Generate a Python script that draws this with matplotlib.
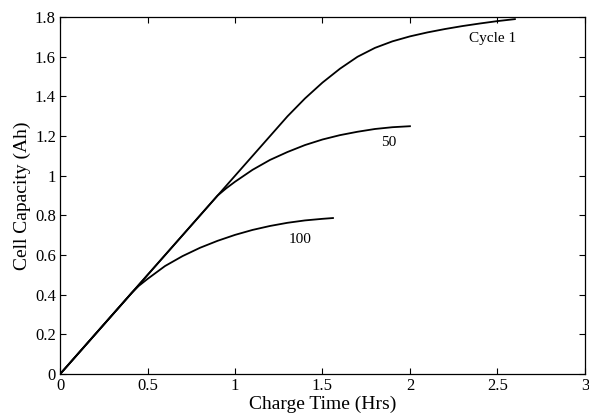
import numpy as np
import matplotlib
matplotlib.use("Agg")
import matplotlib.pyplot as plt
from matplotlib.ticker import FuncFormatter

# ─────────────────────────────────────────────
#  Data (hours, Ah)
# ─────────────────────────────────────────────
cycle1_t = [0, 0.5, 1.0, 1.3, 1.4, 1.5, 1.6, 1.7, 1.8, 1.9, 2.0,
            2.1, 2.2, 2.3, 2.4, 2.5, 2.6]
cycle1_c = [0, 0.5, 1.0, 1.3, 1.39, 1.47, 1.54, 1.60, 1.645, 1.678, 1.703,
            1.723, 1.74, 1.755, 1.768, 1.78, 1.79]

cycle50_t = [0, 0.5, 0.9, 0.95, 1.0, 1.1, 1.2, 1.3, 1.4, 1.5, 1.6,
             1.7, 1.8, 1.9, 2.0]
cycle50_c = [0, 0.5, 0.9, 0.937, 0.97, 1.03, 1.08, 1.12, 1.155, 1.183, 1.205,
             1.222, 1.236, 1.245, 1.25]

cycle100_t = [0, 0.2, 0.41, 0.45, 0.5, 0.6, 0.7, 0.8, 0.9, 1.0, 1.1,
              1.2, 1.3, 1.4, 1.5, 1.56]
cycle100_c = [0, 0.2, 0.41, 0.445, 0.48, 0.545, 0.595, 0.637, 0.672, 0.702, 0.727,
              0.747, 0.763, 0.775, 0.783, 0.787]

curve_labels = ["Cycle 1", "50", "100"]
label_pos = [(2.47, 1.69), (1.88, 1.17), (1.37, 0.68)]

x_ticks = [0, 0.5, 1, 1.5, 2, 2.5, 3]
y_ticks = [0, 0.2, 0.4, 0.6, 0.8, 1, 1.2, 1.4, 1.6, 1.8]

# ─────────────────────────────────────────────
#  Figure
# ─────────────────────────────────────────────
plt.rcParams["font.family"] = ["Liberation Serif", "DejaVu Serif"]

fig = plt.figure(figsize=(5.89, 4.18), dpi=100)
ax = fig.add_axes([0.102, 0.105, 0.891, 0.854])

for t, c in [(cycle1_t, cycle1_c), (cycle50_t, cycle50_c),
             (cycle100_t, cycle100_c)]:
    ax.plot(t, c, color="black", lw=1.3)

for lbl, (lx, ly) in zip(curve_labels, label_pos):
    ax.text(lx, ly, lbl, ha="center", va="center", fontsize=11)

ax.set_xlim(0, 3)
ax.set_ylim(0, 1.8)
ax.set_xticks(x_ticks)
ax.set_yticks(y_ticks)
ax.xaxis.set_major_formatter(FuncFormatter(lambda v, p: f"{v:g}"))
ax.yaxis.set_major_formatter(FuncFormatter(lambda v, p: f"{v:g}"))
ax.tick_params(direction="in", top=True, right=True, length=4,
               labelsize=12, width=0.8, pad=3)
for sp in ax.spines.values():
    sp.set_linewidth(0.9)

ax.set_xlabel("Charge Time (Hrs)", fontsize=14, labelpad=1)
ax.set_ylabel("Cell Capacity (Ah)", fontsize=14, labelpad=3)

plt.savefig("out.png", dpi=100)
plt.close()
